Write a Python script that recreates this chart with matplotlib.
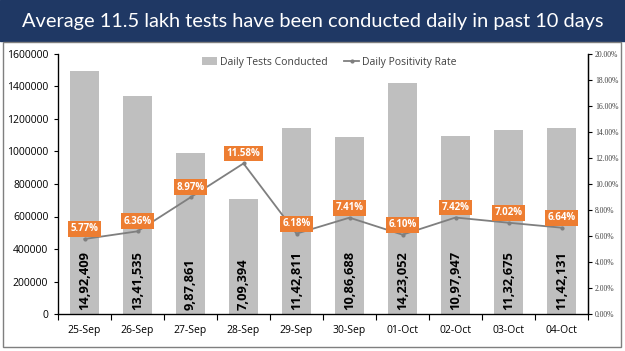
import matplotlib.pyplot as plt
from matplotlib.patches import Rectangle
import numpy as np

dates = ['25-Sep', '26-Sep', '27-Sep', '28-Sep', '29-Sep', '30-Sep',
         '01-Oct', '02-Oct', '03-Oct', '04-Oct']
tests = [1492409, 1341535, 987861, 709394, 1142811, 1086688,
         1423052, 1097947, 1132675, 1142131]
rates = [5.77, 6.36, 8.97, 11.58, 6.18, 7.41, 6.10, 7.42, 7.02, 6.64]
left_ticks = [0, 200000, 400000, 600000, 800000, 1000000, 1200000, 1400000, 1600000]
right_ticks = [0, 2, 4, 6, 8, 10, 12, 14, 16, 18, 20]
title = 'Average 11.5 lakh tests have been conducted daily in past 10 days'


def indian(n):
    # 1492409 -> 14,92,409
    s = str(n)
    last3, rest = s[-3:], s[:-3]
    parts = []
    while len(rest) > 2:
        parts.insert(0, rest[-2:])
        rest = rest[:-2]
    if rest:
        parts.insert(0, rest)
    return ','.join(parts + [last3])


plt.rcParams['font.family'] = ['Open Sans', 'DejaVu Sans']
fig = plt.figure(figsize=(6.25, 3.51), dpi=100)

# title banner and frame
fig.patches.append(Rectangle((0, 1 - 41 / 351), 1, 41 / 351, transform=fig.transFigure,
                             color='#1F3864', zorder=0))
fig.patches.append(Rectangle((3 / 625, 4 / 351), 618 / 625, (351 - 46) / 351,
                             transform=fig.transFigure, fill=False,
                             edgecolor='#7F7F7F', lw=1.0, zorder=0))
fig.text(0.5, 1 - 21 / 351, title, color='white', fontsize=14.4,
         ha='center', va='center', family=['Lato', 'DejaVu Sans'])

ax = fig.add_axes([58 / 625, 1 - 314 / 351, 530 / 625, 260 / 351])
x = np.arange(len(dates))
bars = ax.bar(x, tests, width=0.55, color='#BFBFBF', label='Daily Tests Conducted', zorder=1)
ax.set_xlim(-0.5, len(dates) - 0.5)
ax.set_ylim(0, 1600000)
ax.set_yticks(left_ticks)
ax.set_yticklabels([str(t) for t in left_ticks], fontsize=7.5)
ax.set_xticks(x)
ax.set_xticklabels(dates, fontsize=7.5)
ax.tick_params(axis='x', length=0, pad=8)
ax.set_xticks(np.arange(-0.5, len(dates)), minor=True)
ax.tick_params(axis='x', which='minor', length=4, width=0.8)
ax.tick_params(axis='y', length=3, width=0.8, pad=4)
ax.spines['top'].set_visible(False)
for sp in ['left', 'bottom', 'right']:
    ax.spines[sp].set_linewidth(0.9)

for xi, t in zip(x, tests):
    ax.annotate(indian(t), (xi, 0), xytext=(0, 4), textcoords='offset pixels',
                rotation=90, ha='center', va='bottom', fontsize=9.3,
                fontweight='bold', color='black', zorder=3)

ax2 = ax.twinx()
ax2.set_ylim(0, 20)
ax2.set_yticks(right_ticks)
ax2.set_yticklabels(['%.2f%%' % r for r in right_ticks], fontsize=5.5,
                    family=['Liberation Serif'], color='#404040')
ax2.tick_params(axis='y', length=3, width=0.8, pad=2)
ax2.spines['top'].set_visible(False)
ax2.spines['right'].set_linewidth(0.9)
line, = ax2.plot(x, rates, color='#7F7F7F', lw=1.3, marker='o', markersize=2,
                 label='Daily Positivity Rate', zorder=2)
for xi, r in zip(x, rates):
    ax2.annotate('%.2f%%' % r, (xi, r), xytext=(0, 10), textcoords='offset pixels',
                 ha='center', va='center', fontsize=7, fontweight='bold', color='white',
                 bbox=dict(boxstyle='square,pad=0.25', fc='#ED7D31', ec='none'), zorder=4)

fig.legend([bars, line], ['Daily Tests Conducted', 'Daily Positivity Rate'],
           loc='center', bbox_to_anchor=(0.527, 1 - 62 / 351), ncol=2, frameon=False,
           fontsize=7.5, handlelength=1.4, columnspacing=1.6, handletextpad=0.3,
           labelcolor='#404040')

fig.savefig('out.png', dpi=100)
